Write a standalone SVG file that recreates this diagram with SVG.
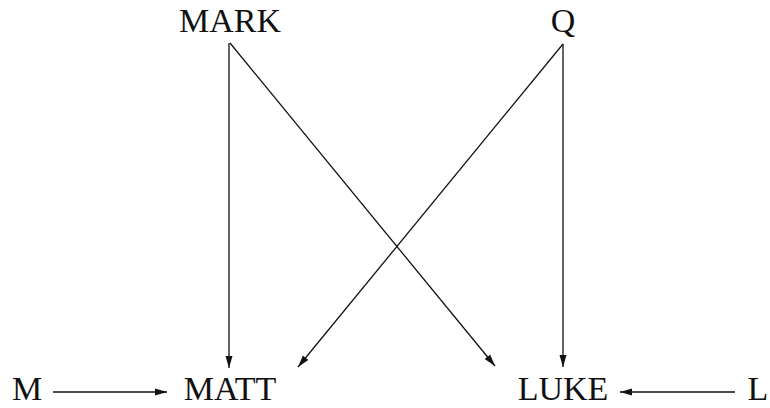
<svg xmlns="http://www.w3.org/2000/svg" width="770" height="408" viewBox="0 0 770 408">
<style>
text{font-family:"Liberation Serif","DejaVu Serif",serif;font-size:34px;fill:#111;}
.c line{stroke:#111;stroke-width:1.3;fill:none;marker-end:url(#ah);}
</style>
<defs>
<marker id="ah" markerUnits="userSpaceOnUse" markerWidth="14" markerHeight="10" refX="12" refY="5" orient="auto">
<path d="M0,1.5 L12,5 L0,8.5 Z" fill="#111"/>
</marker>
</defs>
<rect width="770" height="408" fill="#fff"/>
<g id="MARK"><text x="230" y="32" text-anchor="middle">MARK</text></g>
<g id="Q"><text x="563" y="32" text-anchor="middle">Q</text></g>
<g id="M"><text x="27" y="400" text-anchor="middle">M</text></g>
<g id="MATT"><text x="230" y="400" text-anchor="middle">MATT</text></g>
<g id="LUKE"><text x="563" y="400" text-anchor="middle">LUKE</text></g>
<g id="L"><text x="758" y="400" text-anchor="middle">L</text></g>
<g class="c" id="connectors">
<line x1="229" y1="43" x2="229" y2="368"/>
<line x1="230" y1="43" x2="495" y2="366"/>
<line x1="563" y1="44" x2="563" y2="367"/>
<line x1="563" y1="44" x2="298" y2="367"/>
<line x1="53" y1="392" x2="167" y2="392"/>
<line x1="735" y1="392" x2="620" y2="392"/>
</g>
</svg>
